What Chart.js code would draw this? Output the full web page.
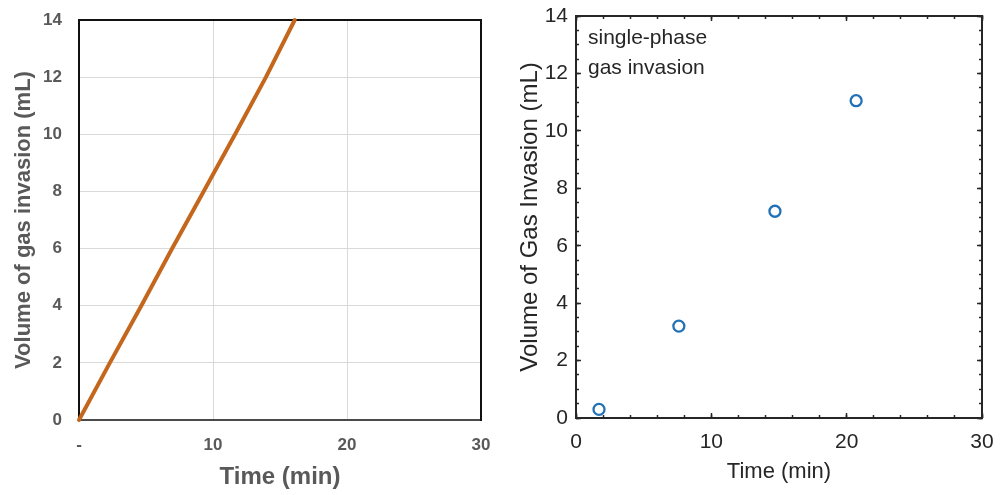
<!DOCTYPE html>
<html><head><meta charset="utf-8">
<script src="https://cdn.jsdelivr.net/npm/chart.js@4/dist/chart.umd.min.js"></script>
<style>
html,body{margin:0;padding:0;background:#fff;}
#wrap{position:relative;width:1000px;height:495px;overflow:hidden;}
canvas{position:absolute;top:0;}
#c1{left:0;} #c2{left:500px;}
</style></head><body>
<div id="wrap"><canvas id="c1" width="500" height="495"></canvas><canvas id="c2" width="500" height="495"></canvas></div>
<script>
// ---- data ----
const leftTime = [0, 2.3, 4.65, 6.95, 9.3, 11.65, 13.95, 16.1];
const leftVolume = [0, 2, 4, 6, 8, 10, 12, 14];
const rightTime = [1.7, 7.6, 14.7, 20.7];
const rightVolume = [0.3, 3.2, 7.2, 11.05];
const xTickValues = [0, 10, 20, 30];
const leftXTickLabels = ['-', '10', '20', '30'];
const rightXTickLabels = ['0', '10', '20', '30'];
const yTickValues = [0, 2, 4, 6, 8, 10, 12, 14];
const yTickLabels = ['0', '2', '4', '6', '8', '10', '12', '14'];
const annotationLines = ['single-phase', 'gas invasion'];

const FONT = '"Liberation Sans", Arial, Helvetica, sans-serif';
Chart.defaults.font.family = FONT;

function labelFor(values, labels) {
  return (v) => { const i = values.indexOf(v); return i >= 0 ? labels[i] : ''; };
}
function noOverflow(s) { s.paddingTop = 0; s.paddingBottom = 0; s.paddingLeft = 0; s.paddingRight = 0; }
function zeroSize(s) { if (s.isHorizontal()) s.height = 0; else s.width = 0; noOverflow(s); }
function fixedSize(size) {
  return (s) => { if (s.isHorizontal()) s.height = size; else s.width = size; noOverflow(s); };
}

function tickAxis(axis, position, min, max, step, len, border, color) {
  return {
    type: 'linear', axis, position, min, max, weight: 0,
    ticks: { display: false, stepSize: step, maxTicksLimit: 1000, autoSkip: false },
    grid: { display: true, drawOnChartArea: false, drawTicks: true, tickLength: -len, tickColor: color, tickWidth: 1.5 },
    border: { display: border, color: color, width: 2 },
    title: { display: false },
    afterFit: zeroSize
  };
}

// ---- left chart ----
const leftGray = '#595959';
new Chart(document.getElementById('c1'), {
  type: 'scatter',
  data: {
    datasets: [{
      data: leftTime.map((t, i) => ({ x: t, y: leftVolume[i] })),
      showLine: true, borderColor: '#c4671d', borderWidth: 4, pointRadius: 0, tension: 0,
      borderCapStyle: 'round', borderJoinStyle: 'round', clip: false
    }]
  },
  options: {
    responsive: false, animation: false, devicePixelRatio: 1,
    layout: { padding: { top: 20, right: 19, left: 0, bottom: 0 } },
    plugins: { legend: { display: false }, tooltip: { enabled: false } },
    scales: {
      x: {
        type: 'linear', position: 'bottom', min: 0, max: 30, weight: 10,
        afterBuildTicks: (s) => { s.ticks = xTickValues.map(v => ({ value: v })); },
        ticks: { callback: labelFor(xTickValues, leftXTickLabels), color: leftGray, font: { size: 17, weight: 'bold' }, padding: 15, maxRotation: 0 },
        grid: { color: '#d9d9d9', lineWidth: 1, drawTicks: false },
        border: { display: true, color: '#4a4a4a', width: 2 },
        title: { display: true, text: 'Time (min)', color: leftGray, font: { size: 24, weight: 'bold' }, padding: { top: 0, bottom: 3 } },
        afterFit: fixedSize(75)
      },
      y: {
        type: 'linear', position: 'left', min: 0, max: 14, weight: 10,
        afterBuildTicks: (s) => { s.ticks = yTickValues.map(v => ({ value: v })); },
        ticks: { callback: labelFor(yTickValues, yTickLabels), color: leftGray, font: { size: 17, weight: 'bold' }, padding: 17 },
        grid: { color: '#d9d9d9', lineWidth: 1, drawTicks: false },
        border: { display: true, color: '#111111', width: 2 },
        title: { display: true, text: 'Volume of gas invasion (mL)', color: leftGray, font: { size: 22, weight: 'bold' }, padding: { top: 11, bottom: 0 } },
        afterFit: fixedSize(79)
      },
      xTop: {
        type: 'linear', axis: 'x', position: 'top', min: 0, max: 30,
        ticks: { display: false }, grid: { display: false },
        border: { display: true, color: '#111111', width: 2 }, afterFit: zeroSize
      },
      yRight: {
        type: 'linear', axis: 'y', position: 'right', min: 0, max: 14,
        ticks: { display: false }, grid: { display: false },
        border: { display: true, color: '#111111', width: 2 }, afterFit: zeroSize
      }
    }
  }
});

// ---- right chart ----
const dark = '#262626';
const annotationPlugin = {
  id: 'annot',
  afterDraw(chart) {
    const { ctx, chartArea } = chart;
    ctx.save();
    ctx.font = '21px ' + FONT;
    ctx.fillStyle = dark;
    ctx.textBaseline = 'alphabetic';
    ctx.textAlign = 'left';
    annotationLines.forEach((t, i) => ctx.fillText(t, chartArea.left + 12, chartArea.top + 28 + i * 30));
    ctx.restore();
  }
};
new Chart(document.getElementById('c2'), {
  type: 'scatter',
  data: {
    datasets: [{
      data: rightTime.map((t, i) => ({ x: t, y: rightVolume[i] })),
      pointStyle: 'circle', pointRadius: 5.5, pointBorderWidth: 2.3,
      borderColor: '#2271b6', backgroundColor: 'rgba(255,255,255,0)', showLine: false, clip: false
    }]
  },
  plugins: [annotationPlugin],
  options: {
    responsive: false, animation: false, devicePixelRatio: 1,
    layout: { padding: { top: 16, right: 18, left: 0, bottom: 0 } },
    plugins: { legend: { display: false }, tooltip: { enabled: false } },
    scales: {
      x: {
        type: 'linear', position: 'bottom', min: 0, max: 30, weight: 10,
        afterBuildTicks: (s) => { s.ticks = xTickValues.map(v => ({ value: v })); },
        ticks: { callback: labelFor(xTickValues, rightXTickLabels), color: dark, font: { size: 21 }, padding: 12, maxRotation: 0 },
        grid: { display: false, drawTicks: false },
        border: { display: true, color: dark, width: 2 },
        title: { display: true, text: 'Time (min)', color: dark, font: { size: 22 }, padding: { top: 0, bottom: 10 } },
        afterFit: fixedSize(77)
      },
      y: {
        type: 'linear', position: 'left', min: 0, max: 14, weight: 10,
        afterBuildTicks: (s) => { s.ticks = yTickValues.map(v => ({ value: v })); },
        ticks: { callback: labelFor(yTickValues, yTickLabels), color: dark, font: { size: 21 }, padding: 8 },
        grid: { display: false, drawTicks: false },
        border: { display: true, color: dark, width: 2 },
        title: { display: true, text: 'Volume of Gas Invasion (mL)', color: dark, font: { size: 24 }, padding: { top: 16, bottom: 0 } },
        afterFit: fixedSize(76)
      },
      xMajB: tickAxis('x', 'bottom', 0, 30, 10, 5, false, dark),
      xMinB: tickAxis('x', 'bottom', 0, 30, 2, 3, false, dark),
      xMajT: tickAxis('x', 'top', 0, 30, 10, 5, true, dark),
      xMinT: tickAxis('x', 'top', 0, 30, 2, 3, false, dark),
      yMajL: tickAxis('y', 'left', 0, 14, 2, 5, false, dark),
      yMinL: tickAxis('y', 'left', 0, 14, 0.5, 3, false, dark),
      yMajR: tickAxis('y', 'right', 0, 14, 2, 5, true, dark),
      yMinR: tickAxis('y', 'right', 0, 14, 0.5, 3, false, dark)
    }
  }
});
</script>
</body></html>
